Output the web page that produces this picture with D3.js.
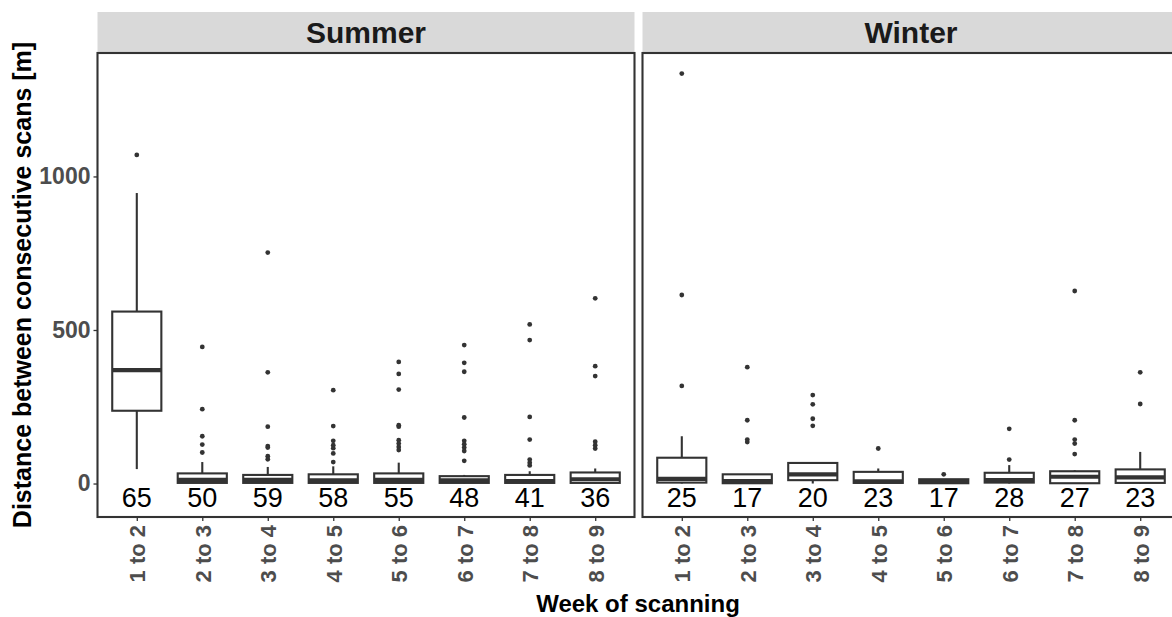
<!DOCTYPE html>
<html lang="en">
<head>
<meta charset="utf-8" />
<title>Distance between consecutive scans</title>
<script src="https://d3js.org/d3.v7.min.js"></script>
<style>
  html, body { margin: 0; padding: 0; background: #fff; }
  svg text { font-family: "Liberation Sans", Arial, sans-serif; }
</style>
</head>
<body>
<div id="chart"></div>
<script>
// week categories and panels
var weeks = ["1 to 2", "2 to 3", "3 to 4", "4 to 5", "5 to 6", "6 to 7", "7 to 8", "8 to 9"];
var seasons = ["Summer", "Winter"];
var yTicks = [0, 500, 1000];

// Summer box stats
var summerLower  = [47, 0, 0, 0, 0, 0, 0, 0];
var summerQ1     = [237, 2, 2, 2, 2, 2, 2, 2];
var summerMedian = [369, 12, 12, 10, 12, 10, 8, 14];
var summerQ3     = [560, 33, 28, 30, 33, 24, 28, 36];
var summerUpper  = [946, 70, 54, 56, 68, 28, 40, 49];
var summerOutliers = [
  [1070],
  [445, 242, 154, 127, 101],
  [752, 362, 185, 122, 117, 89, 79],
  [304, 187, 139, 125, 115, 98, 70],
  [396, 357, 306, 190, 185, 141, 130, 119, 109],
  [451, 393, 364, 215, 139, 128, 117, 106, 74],
  [518, 467, 217, 143, 78, 68, 59],
  [603, 382, 350, 136, 125, 114]
];
var summerCounts = [65, 50, 59, 58, 55, 48, 41, 36];

// Winter box stats
var winterLower  = [0, 0, 0, 0, 0, 0, 0, 0];
var winterQ1     = [3, 1, 11, 2, 1, 3, 1, 2];
var winterMedian = [15, 8, 30, 7, 6, 11, 22, 20];
var winterQ3     = [84, 30, 67, 38, 14, 35, 40, 46];
var winterUpper  = [154, 30, 69, 49, 14, 60, 43, 103];
var winterOutliers = [
  [1335, 614, 318],
  [379, 206, 143, 135],
  [288, 258, 211, 188],
  [114],
  [30],
  [178, 78],
  [627, 206, 143, 130, 96],
  [362, 259]
];
var winterCounts = [25, 17, 20, 23, 17, 28, 27, 23];

// where the n labels sit (data units)
var countLabelY = -45;

// build rows for each panel
function makeRows(lower, q1, med, q3, upper, outl, counts) {
  return weeks.map(function(w, i) {
    return { week: w, lower: lower[i], q1: q1[i], median: med[i], q3: q3[i],
             upper: upper[i], outliers: outl[i], n: counts[i] };
  });
}
var panels = [
  { name: seasons[0], rows: makeRows(summerLower, summerQ1, summerMedian, summerQ3, summerUpper, summerOutliers, summerCounts), x0: 97.5, x1: 634.5 },
  { name: seasons[1], rows: makeRows(winterLower, winterQ1, winterMedian, winterQ3, winterUpper, winterOutliers, winterCounts), x0: 642.5, x1: 1179.5 }
];

var width = 1172, height = 617;
var panelTop = 53, panelBottom = 517;
var stripTop = 12;
var ink = "#333333";
var lw = 2.1;

var svg = d3.select("#chart").append("svg")
  .attr("width", width)
  .attr("height", height);

// y scale shared by both panels
var yScale = d3.scaleLinear()
  .domain([-109, 1402])
  .range([panelBottom, panelTop]);

panels.forEach(function(p, pi) {
  var xScale = d3.scalePoint()
    .domain(weeks)
    .range([p.x0, p.x1])
    .padding(0.6);
  var boxW = xScale.step() * 0.75;

  var g = svg.append("g");

  // strip
  g.append("rect")
    .attr("x", p.x0).attr("y", stripTop)
    .attr("width", p.x1 - p.x0).attr("height", panelTop - stripTop)
    .attr("fill", "#d9d9d9");
  g.append("text")
    .attr("x", (p.x0 + p.x1) / 2)
    .attr("y", (stripTop + panelTop) / 2)
    .attr("dy", "0.36em")
    .attr("text-anchor", "middle")
    .attr("font-size", 30)
    .attr("font-weight", "bold")
    .attr("fill", "#1a1a1a")
    .text(p.name);

  // boxes
  var box = g.selectAll("g.box").data(p.rows).enter().append("g").attr("class", "box");

  box.append("line")
    .attr("x1", function(d) { return xScale(d.week); })
    .attr("x2", function(d) { return xScale(d.week); })
    .attr("y1", function(d) { return yScale(d.q3); })
    .attr("y2", function(d) { return yScale(d.upper); })
    .attr("stroke", ink).attr("stroke-width", lw);
  box.append("line")
    .attr("x1", function(d) { return xScale(d.week); })
    .attr("x2", function(d) { return xScale(d.week); })
    .attr("y1", function(d) { return yScale(d.q1); })
    .attr("y2", function(d) { return yScale(d.lower); })
    .attr("stroke", ink).attr("stroke-width", lw);

  box.append("rect")
    .attr("x", function(d) { return xScale(d.week) - boxW / 2; })
    .attr("y", function(d) { return yScale(d.q3); })
    .attr("width", boxW)
    .attr("height", function(d) { return yScale(d.q1) - yScale(d.q3); })
    .attr("fill", "#fff")
    .attr("stroke", ink).attr("stroke-width", lw);

  box.append("line")
    .attr("x1", function(d) { return xScale(d.week) - boxW / 2; })
    .attr("x2", function(d) { return xScale(d.week) + boxW / 2; })
    .attr("y1", function(d) { return yScale(d.median); })
    .attr("y2", function(d) { return yScale(d.median); })
    .attr("stroke", ink).attr("stroke-width", lw * 2);

  // outliers
  box.selectAll("circle")
    .data(function(d) { return d.outliers.map(function(v) { return { week: d.week, v: v }; }); })
    .enter().append("circle")
    .attr("cx", function(d) { return xScale(d.week); })
    .attr("cy", function(d) { return yScale(d.v); })
    .attr("r", 2.4)
    .attr("fill", ink);

  // n labels
  box.append("text")
    .attr("x", function(d) { return xScale(d.week); })
    .attr("y", yScale(countLabelY))
    .attr("dy", "0.36em")
    .attr("text-anchor", "middle")
    .attr("font-size", 27)
    .attr("fill", "#000")
    .text(function(d) { return d.n; });

  // panel border
  g.append("rect")
    .attr("x", p.x0).attr("y", panelTop)
    .attr("width", p.x1 - p.x0).attr("height", panelBottom - panelTop)
    .attr("fill", "none")
    .attr("stroke", ink).attr("stroke-width", lw);

  // x axis
  var xAxis = g.append("g")
    .attr("transform", "translate(0," + panelBottom + ")")
    .call(d3.axisBottom(xScale).tickSize(4).tickPadding(4));
  xAxis.select(".domain").remove();
  xAxis.selectAll(".tick line").attr("stroke", ink).attr("stroke-width", 1.3);
  xAxis.selectAll(".tick text")
    .attr("font-size", 22)
    .attr("font-weight", "bold")
    .attr("fill", "#4d4d4d")
    .attr("text-anchor", "end")
    .attr("transform", "rotate(-90)")
    .attr("x", -8)
    .attr("y", 0)
    .attr("dy", "0.36em");

  // y axis only on the first panel
  if (pi === 0) {
    var yAxis = g.append("g")
      .attr("transform", "translate(" + p.x0 + ",0)")
      .call(d3.axisLeft(yScale).tickValues(yTicks).tickFormat(d3.format("d")).tickSize(4).tickPadding(3));
    yAxis.select(".domain").remove();
    yAxis.selectAll(".tick line").attr("stroke", ink).attr("stroke-width", 1.3);
    yAxis.selectAll(".tick text")
      .attr("font-size", 23)
      .attr("font-weight", "bold")
      .attr("fill", "#4d4d4d");
  }
});

// axis titles
svg.append("text")
  .attr("x", 638)
  .attr("y", 612)
  .attr("text-anchor", "middle")
  .attr("font-size", 24)
  .attr("font-weight", "bold")
  .attr("fill", "#000")
  .text("Week of scanning");

svg.append("text")
  .attr("transform", "translate(31," + (panelTop + panelBottom) / 2 + ") rotate(-90)")
  .attr("text-anchor", "middle")
  .attr("font-size", 25)
  .attr("font-weight", "bold")
  .attr("fill", "#000")
  .text("Distance between consecutive scans [m]");
</script>
</body>
</html>
